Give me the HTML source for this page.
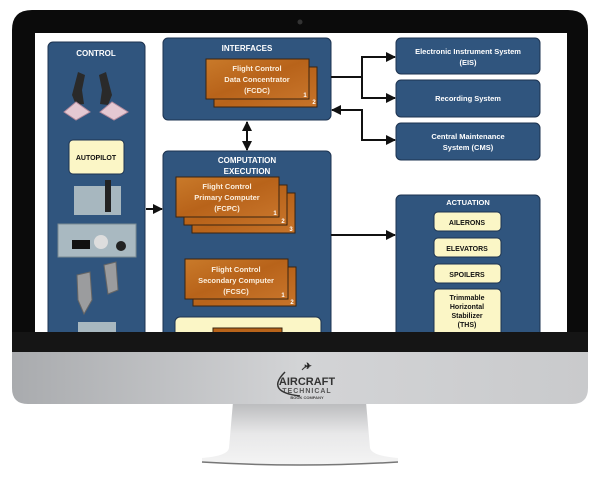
<!DOCTYPE html>
<html><head><style>
html,body{margin:0;padding:0;background:#fff;}
svg{display:block;}
text{font-family:"Liberation Sans",sans-serif;font-weight:bold;}
</style></head><body>
<svg width="600" height="480" viewBox="0 0 600 480" xmlns="http://www.w3.org/2000/svg">
<defs>
<linearGradient id="chin" x1="0" x2="1"><stop offset="0" stop-color="#a9abae"/><stop offset="0.5" stop-color="#d3d4d6"/><stop offset="1" stop-color="#c9cacc"/></linearGradient>
<linearGradient id="stand" x1="0" y1="0" x2="0" y2="1"><stop offset="0" stop-color="#b9babc"/><stop offset="0.5" stop-color="#e8e8e9"/><stop offset="1" stop-color="#f4f4f4"/></linearGradient>
<linearGradient id="card" x1="0" y1="0" x2="1" y2="1"><stop offset="0" stop-color="#c97a2a"/><stop offset="0.5" stop-color="#b8631a"/><stop offset="1" stop-color="#c7742a"/></linearGradient>
<marker id="ah" viewBox="0 0 10 10" refX="9" refY="5" markerWidth="7" markerHeight="5" orient="auto-start-reverse"><path d="M0,0 L10,5 L0,10 z" fill="#111"/></marker>
</defs>
<!-- stand -->
<path d="M233,402 L366,402 L370,448 Q372,456 398,458 L398,463 Q300,468 202,463 L202,458 Q228,456 229,448 Z" fill="url(#stand)"/>
<path d="M202,462 Q300,468 398,462" stroke="#777" stroke-width="1.5" fill="none"/>
<!-- monitor -->
<path d="M12,350 L588,350 L588,388 Q588,404 572,404 L28,404 Q12,404 12,388 Z" fill="url(#chin)"/>
<path d="M32,10 L568,10 Q588,10 588,30 L588,352 L12,352 L12,30 Q12,10 32,10 Z" fill="#0b0b0b"/>
<rect x="12" y="332" width="576" height="20" fill="#151515"/>
<circle cx="300" cy="22" r="2.5" fill="#333"/>
<rect x="35" y="33" width="532" height="299" fill="#fff"/>
<!-- logo -->
<text x="307" y="385" font-size="11" fill="#333" text-anchor="middle">AIRCRAFT</text>
<text x="307" y="393" font-size="7" fill="#555" font-weight="normal" text-anchor="middle" letter-spacing="1">TECHNICAL</text>
<text x="307" y="399" font-size="4" fill="#444" text-anchor="middle">BOOK COMPANY</text>
<path d="M285,372 Q265,392 300,396" stroke="#333" stroke-width="1.5" fill="none"/>
<path d="M302,370 Q305,366 310,366" stroke="#333" stroke-width="1" fill="none"/>
<text x="308" y="369" font-size="9" fill="#222" text-anchor="middle">✈</text>
<g clip-path="url(#scr)">
<clipPath id="scr"><rect x="35" y="33" width="532" height="299"/></clipPath>
<!-- CONTROL -->
<rect x="48" y="42" width="97" height="300" rx="5" fill="#30557e" stroke="#1d3350"/>
<text x="96" y="56" font-size="8" fill="#fff" text-anchor="middle">CONTROL</text>
<path d="M78,72 L72,95 L76,105 L84,104 L82,90 L85,75 Z" fill="#2a2a2a"/>
<path d="M106,72 L112,95 L108,105 L100,104 L102,90 L99,75 Z" fill="#2a2a2a"/>
<path d="M64,112 L76,102 L90,112 L76,120 Z" fill="#e4c8d2" stroke="#b28a9c"/>
<path d="M100,112 L112,102 L128,112 L114,120 Z" fill="#e4c8d2" stroke="#b28a9c"/>
<rect x="69" y="140" width="55" height="34" rx="4" fill="#fbf6c6" stroke="#1d3350"/>
<text x="96" y="160" font-size="7" fill="#111" text-anchor="middle">AUTOPILOT</text>
<rect x="74" y="186" width="47" height="29" fill="#a7b7bf"/>
<rect x="105" y="180" width="6" height="32" fill="#222"/>
<rect x="58" y="224" width="78" height="33" fill="#a9b9c1" stroke="#7a8a92"/>
<circle cx="101" cy="242" r="7" fill="#ddd"/><circle cx="121" cy="246" r="5" fill="#222"/>
<rect x="72" y="240" width="18" height="9" fill="#111"/>
<path d="M77,275 L90,272 L92,300 L84,314 L78,300 Z M104,265 L116,262 L118,290 L108,294 Z" fill="#9b9c9e" stroke="#666"/>
<rect x="78" y="322" width="38" height="15" fill="#a8b8c0"/>
<!-- INTERFACES -->
<rect x="163" y="38" width="168" height="82" rx="5" fill="#30557e" stroke="#1d3350"/>
<text x="247" y="51" font-size="8" fill="#fff" text-anchor="middle">INTERFACES</text>
<rect x="214" y="67" width="103" height="40" fill="url(#card)" stroke="#3a2410"/>
<rect x="206" y="59" width="103" height="40" fill="url(#card)" stroke="#3a2410"/>
<text x="257" y="71" font-size="7.5" fill="#fbeedd" text-anchor="middle">Flight Control</text>
<text x="257" y="82" font-size="7.5" fill="#fbeedd" text-anchor="middle">Data Concentrator</text>
<text x="257" y="93" font-size="7.5" fill="#fbeedd" text-anchor="middle">(FCDC)</text>
<text x="305" y="97" font-size="6" fill="#fff" text-anchor="middle">1</text>
<text x="314" y="104" font-size="6" fill="#fff" text-anchor="middle">2</text>
<line x1="247" y1="122" x2="247" y2="150" stroke="#111" stroke-width="2" marker-start="url(#ah)" marker-end="url(#ah)"/>
<!-- COMPUTATION -->
<rect x="163" y="151" width="168" height="200" rx="5" fill="#30557e" stroke="#1d3350"/>
<text x="247" y="163" font-size="8" fill="#fff" text-anchor="middle">COMPUTATION</text>
<text x="247" y="174" font-size="8" fill="#fff" text-anchor="middle">EXECUTION</text>
<rect x="192" y="193" width="103" height="40" fill="url(#card)" stroke="#3a2410"/>
<rect x="184" y="185" width="103" height="40" fill="url(#card)" stroke="#3a2410"/>
<rect x="176" y="177" width="103" height="40" fill="url(#card)" stroke="#3a2410"/>
<text x="227" y="189" font-size="7.5" fill="#fbeedd" text-anchor="middle">Flight Control</text>
<text x="227" y="200" font-size="7.5" fill="#fbeedd" text-anchor="middle">Primary Computer</text>
<text x="227" y="211" font-size="7.5" fill="#fbeedd" text-anchor="middle">(FCPC)</text>
<text x="275" y="215" font-size="6" fill="#fff" text-anchor="middle">1</text>
<text x="283" y="223" font-size="6" fill="#fff" text-anchor="middle">2</text>
<text x="291" y="231" font-size="6" fill="#fff" text-anchor="middle">3</text>
<rect x="193" y="267" width="103" height="39" fill="url(#card)" stroke="#3a2410"/>
<rect x="185" y="259" width="103" height="40" fill="url(#card)" stroke="#3a2410"/>
<text x="236" y="272" font-size="7.5" fill="#fbeedd" text-anchor="middle">Flight Control</text>
<text x="236" y="283" font-size="7.5" fill="#fbeedd" text-anchor="middle">Secondary Computer</text>
<text x="236" y="294" font-size="7.5" fill="#fbeedd" text-anchor="middle">(FCSC)</text>
<text x="283" y="297" font-size="6" fill="#fff" text-anchor="middle">1</text>
<text x="292" y="304" font-size="6" fill="#fff" text-anchor="middle">2</text>
<rect x="175" y="317" width="146" height="30" rx="5" fill="#fbf6c6" stroke="#1d3350"/>
<rect x="213" y="328" width="69" height="10" fill="#b8631a" stroke="#3a2410"/>
<line x1="146" y1="209" x2="162" y2="209" stroke="#111" stroke-width="2" marker-end="url(#ah)"/>
<!-- right -->
<rect x="396" y="38" width="144" height="36" rx="5" fill="#30557e" stroke="#1d3350"/>
<text x="468" y="54" font-size="7.5" fill="#fff" text-anchor="middle">Electronic Instrument System</text>
<text x="468" y="65" font-size="7.5" fill="#fff" text-anchor="middle">(EIS)</text>
<rect x="396" y="80" width="144" height="37" rx="5" fill="#30557e" stroke="#1d3350"/>
<text x="468" y="101" font-size="7.5" fill="#fff" text-anchor="middle">Recording System</text>
<rect x="396" y="123" width="144" height="37" rx="5" fill="#30557e" stroke="#1d3350"/>
<text x="468" y="139" font-size="7.5" fill="#fff" text-anchor="middle">Central Maintenance</text>
<text x="468" y="150" font-size="7.5" fill="#fff" text-anchor="middle">System (CMS)</text>
<path d="M331,77 L362,77 M362,57 L362,98" stroke="#111" stroke-width="2" fill="none"/>
<line x1="361" y1="57" x2="395" y2="57" stroke="#111" stroke-width="2" marker-end="url(#ah)"/>
<line x1="361" y1="98" x2="395" y2="98" stroke="#111" stroke-width="2" marker-end="url(#ah)"/>
<line x1="363" y1="110" x2="332" y2="110" stroke="#111" stroke-width="2" marker-end="url(#ah)"/>
<path d="M362,109 L362,140 L395,140" stroke="#111" stroke-width="2" fill="none" marker-end="url(#ah)"/>
<line x1="331" y1="235" x2="395" y2="235" stroke="#111" stroke-width="2" marker-end="url(#ah)"/>
<rect x="396" y="195" width="144" height="150" rx="5" fill="#30557e" stroke="#1d3350"/>
<text x="468" y="205" font-size="7.5" fill="#fff" text-anchor="middle">ACTUATION</text>
<rect x="434" y="212" width="67" height="19" rx="4" fill="#fbf6c6" stroke="#1d3350"/>
<text x="467" y="225" font-size="7" fill="#111" text-anchor="middle">AILERONS</text>
<rect x="434" y="238" width="67" height="19" rx="4" fill="#fbf6c6" stroke="#1d3350"/>
<text x="467" y="251" font-size="7" fill="#111" text-anchor="middle">ELEVATORS</text>
<rect x="434" y="264" width="67" height="19" rx="4" fill="#fbf6c6" stroke="#1d3350"/>
<text x="467" y="277" font-size="7" fill="#111" text-anchor="middle">SPOILERS</text>
<rect x="434" y="289" width="67" height="50" rx="4" fill="#fbf6c6" stroke="#1d3350"/>
<text x="467" y="300" font-size="7" fill="#111" text-anchor="middle">Trimmable</text>
<text x="467" y="309" font-size="7" fill="#111" text-anchor="middle">Horizontal</text>
<text x="467" y="318" font-size="7" fill="#111" text-anchor="middle">Stabilizer</text>
<text x="467" y="327" font-size="7" fill="#111" text-anchor="middle">(THS)</text>
</g>
</svg>
</body></html>
